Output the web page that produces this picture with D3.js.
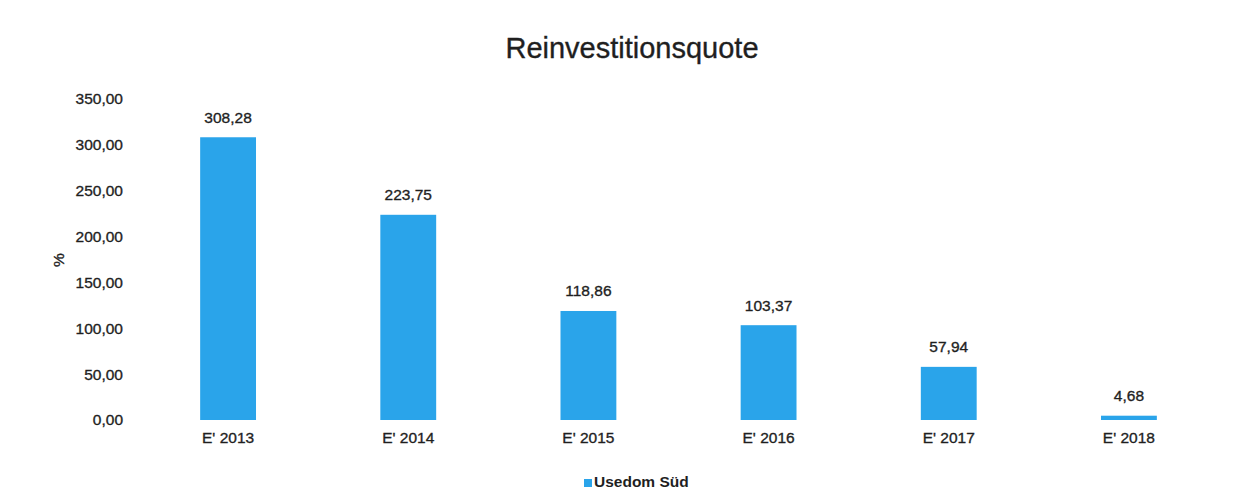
<!DOCTYPE html>
<html>
<head>
<meta charset="utf-8">
<script src="https://cdn.jsdelivr.net/npm/d3@7"></script>
<style>
  html, body { margin: 0; padding: 0; background: #fff; }
  svg { display: block; font-family: "Liberation Sans", Arial, sans-serif; }
</style>
</head>
<body>
<svg id="chart" width="1239" height="491"></svg>
<script>
const categories = ["E' 2013", "E' 2014", "E' 2015", "E' 2016", "E' 2017", "E' 2018"];
const values = [308.28, 223.75, 118.86, 103.37, 57.94, 4.68];
const yTicks = [0, 50, 100, 150, 200, 250, 300, 350];
const seriesName = "Usedom Süd";
const title = "Reinvestitionsquote";
const yAxisLabel = "%";

const svg = d3.select("#chart");
const barColor = "#2AA4EA";
const textColor = "#1f1f1f";
const heavy = sel => sel.attr("stroke", textColor).attr("stroke-width", 0.35);

const fmt = v => d3.format(".2f")(v).replace(".", ",");

const x = d3.scaleBand().domain(categories).range([138, 1219]).paddingInner(0.69).paddingOuter(0.345);
const y = d3.scaleLinear().domain([0, 350]).range([420, 99]);

// title
svg.append("text").attr("x", 632).attr("y", 58).attr("text-anchor", "middle")
  .attr("font-size", 29).attr("fill", textColor).call(heavy).text(title);

// y axis
const yAxis = d3.axisLeft(y).tickValues(yTicks).tickFormat(fmt).tickSize(0).tickPadding(0);
const gy = svg.append("g").attr("transform", "translate(123,0)").call(yAxis);
gy.select(".domain").remove();
gy.selectAll("text").attr("font-size", 15.5).attr("fill", textColor).call(heavy)
  .attr("font-family", "Liberation Sans, Arial, sans-serif");

// y label
svg.append("text").attr("transform", "translate(64,260) rotate(-90)")
  .attr("text-anchor", "middle").attr("font-size", 15.5).attr("fill", textColor).call(heavy).text(yAxisLabel);

// x axis
const xAxis = d3.axisBottom(x).tickSize(0).tickPadding(0);
const gx = svg.append("g").attr("transform", "translate(0,432)").call(xAxis);
gx.select(".domain").remove();
gx.selectAll("text").attr("font-size", 15.5).attr("fill", textColor).attr("dy", "0.71em").call(heavy)
  .attr("font-family", "Liberation Sans, Arial, sans-serif");

// bars
svg.append("g").selectAll("rect").data(values).join("rect")
  .attr("x", (d, i) => x(categories[i]))
  .attr("width", x.bandwidth())
  .attr("y", d => y(d))
  .attr("height", d => y(0) - y(d))
  .attr("fill", barColor);

// data labels
svg.append("g").selectAll("text").data(values).join("text")
  .attr("x", (d, i) => x(categories[i]) + x.bandwidth() / 2)
  .attr("y", d => y(d) - 14.5)
  .attr("text-anchor", "middle").attr("font-size", 15.5).attr("fill", textColor).call(heavy)
  .text(d => fmt(d));

// legend
const lg = svg.append("g").attr("transform", "translate(584,479)");
lg.append("rect").attr("width", 8).attr("height", 8).attr("fill", barColor);
lg.append("text").attr("x", 10).attr("y", 8).attr("font-size", 15.5).attr("font-weight", "bold")
  .attr("fill", textColor).text(seriesName);
</script>
</body>
</html>
